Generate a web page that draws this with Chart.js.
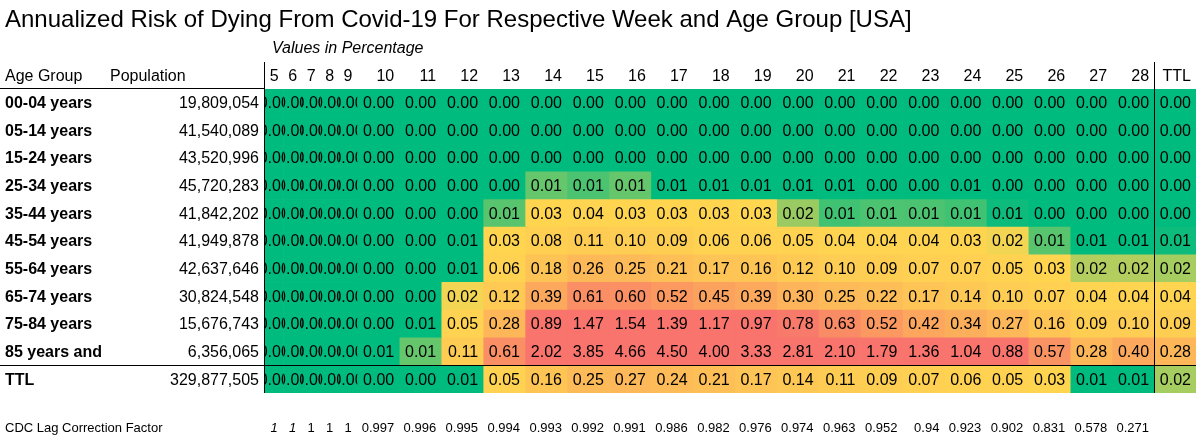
<!DOCTYPE html>
<html>
<head>
<meta charset="utf-8">
<script src="https://cdn.jsdelivr.net/npm/chart.js@4"></script>
<style>
  html, body { margin: 0; padding: 0; background: #fff; }
  #wrap { width: 1200px; height: 440px; }
</style>
</head>
<body>
<div id="wrap"><canvas id="riskChart" width="1200" height="440"></canvas></div>
<script>
// Week columns + total column
const weeks = ['5', '6', '7', '8', '9', '10', '11', '12', '13', '14', '15', '16', '17', '18', '19', '20', '21', '22', '23', '24', '25', '26', '27', '28'];
const columns = [...weeks, 'TTL'];

const ageGroups = ['00-04 years', '05-14 years', '15-24 years', '25-34 years', '35-44 years', '45-54 years',
  '55-64 years', '65-74 years', '75-84 years', '85 years and', 'TTL'];
const population = [19809054, 41540089, 43520996, 45720283, 41842202, 41949878, 42637646, 30824548, 15676743, 6356065, 329877505];

// Annualized risk in %, weeks 5..28 then TTL (extra digit estimated from cell shade)
const age00_04 = [0, 0, 0, 0, 0, 0, 0, 0, 0, 0, 0, 0, 0, 0, 0, 0, 0, 0, 0, 0, 0, 0, 0, 0, 0];
const age05_14 = [0, 0, 0, 0, 0, 0, 0, 0, 0, 0, 0, 0, 0, 0, 0, 0, 0, 0, 0, 0, 0, 0, 0, 0, 0];
const age15_24 = [0, 0, 0, 0, 0, 0, 0, 0, 0, 0, 0, 0, 0, 0, 0, 0, 0, 0, 0, 0, 0, 0, 0, 0, 0];
const age25_34 = [0, 0, 0, 0, 0, 0, 0, 0, 0.004, 0.013, 0.011, 0.013, 0.005, 0.005, 0.005, 0.005, 0.005, 0.004, 0.004, 0.005, 0.004, 0.003, 0.003, 0.003, 0.004];
const age35_44 = [0, 0, 0, 0, 0, 0, 0, 0.004, 0.012, 0.03, 0.04, 0.03, 0.03, 0.03, 0.025, 0.017, 0.010, 0.011, 0.011, 0.010, 0.006, 0.004, 0.003, 0.003, 0.004];
const age45_54 = [0, 0, 0, 0, 0, 0, 0.004, 0.005, 0.03, 0.08, 0.11, 0.10, 0.09, 0.06, 0.06, 0.05, 0.04, 0.04, 0.04, 0.03, 0.024, 0.012, 0.005, 0.005, 0.006];
const age55_64 = [0, 0, 0, 0, 0, 0, 0.004, 0.005, 0.06, 0.18, 0.26, 0.25, 0.21, 0.17, 0.16, 0.12, 0.10, 0.09, 0.07, 0.07, 0.05, 0.03, 0.019, 0.019, 0.018];
const age65_74 = [0, 0, 0, 0, 0, 0.002, 0.004, 0.024, 0.12, 0.39, 0.61, 0.60, 0.52, 0.45, 0.39, 0.30, 0.25, 0.22, 0.17, 0.14, 0.10, 0.07, 0.04, 0.04, 0.04];
const age75_84 = [0, 0, 0, 0, 0, 0.004, 0.005, 0.05, 0.28, 0.89, 1.47, 1.54, 1.39, 1.17, 0.97, 0.78, 0.63, 0.52, 0.42, 0.34, 0.27, 0.16, 0.09, 0.10, 0.09];
const age85plus = [0, 0, 0, 0, 0, 0.005, 0.013, 0.11, 0.61, 2.02, 3.85, 4.66, 4.50, 4.00, 3.33, 2.81, 2.10, 1.79, 1.36, 1.04, 0.88, 0.57, 0.28, 0.40, 0.28];
const ageTotal = [0, 0, 0, 0, 0, 0.002, 0.004, 0.005, 0.05, 0.16, 0.25, 0.27, 0.24, 0.21, 0.17, 0.14, 0.11, 0.09, 0.07, 0.06, 0.05, 0.03, 0.005, 0.005, 0.018];

const lagFactor = ['1', '1', '1', '1', '1', '0.997', '0.996', '0.995', '0.994', '0.993', '0.992', '0.991', '0.986', '0.982',
  '0.976', '0.974', '0.963', '0.952', '0.94', '0.923', '0.902', '0.831', '0.578', '0.271'];

const rows = [age00_04, age05_14, age15_24, age25_34, age35_44, age45_54, age55_64, age65_74, age75_84, age85plus, ageTotal];

// column layout: weeks 5-9 are squeezed
const isNarrow = (i) => i < 5;
const colEdges = [0];
columns.forEach((c, i) => colEdges.push(colEdges[i] + (isNarrow(i) ? 0.44 : 1)));

const FONT = '"Liberation Sans", Arial, sans-serif';
const GREEN = [0, 187, 126], YELLOW = [255, 214, 80], RED = [248, 116, 108];

const mix = (a, b, t) => {
  t = Math.max(0, Math.min(1, t));
  return `rgb(${a.map((v, k) => Math.round(v + (b[k] - v) * t)).join(',')})`;
};
const cellColor = (v) => {
  if (v <= 0.025) return mix(GREEN, YELLOW, (v - 0.005) / 0.02);
  return mix(YELLOW, RED, (v - 0.025) / 0.8);
};

// one floating-bar dataset per column
const datasets = columns.map((c, ci) => ({
  label: c,
  data: rows.map(() => [colEdges[ci], colEdges[ci + 1]]),
  backgroundColor: rows.map(r => cellColor(r[ci])),
  borderWidth: 0,
  grouped: false,
  barPercentage: 1,
  categoryPercentage: 1
}));

const tablePlugin = {
  id: 'tableText',
  afterDatasetsDraw(chart) {
    const ctx = chart.ctx;
    ctx.save();
    ctx.fillStyle = '#000';
    ctx.textBaseline = 'middle';
    ctx.font = `16px ${FONT}`;
    chart.data.datasets.forEach((ds, ci) => {
      chart.getDatasetMeta(ci).data.forEach((bar, ri) => {
        const left = Math.min(bar.x, bar.base), right = Math.max(bar.x, bar.base);
        const top = bar.y - bar.height / 2;
        const txt = rows[ri][ci].toFixed(2);
        ctx.save();
        ctx.beginPath();
        ctx.rect(left, top, right - left, bar.height);
        ctx.clip();
        if (isNarrow(ci)) {
          ctx.textAlign = 'center';
          ctx.fillText(txt, (left + right) / 2, bar.y + 1);
        } else {
          ctx.textAlign = 'right';
          ctx.fillText(txt, right - 5, bar.y + 1);
        }
        ctx.restore();
      });
    });
    ctx.restore();
  },
  afterDraw(chart) {
    const ctx = chart.ctx;
    const x = chart.scales.x, y = chart.scales.y;
    const area = chart.chartArea;
    ctx.save();
    ctx.fillStyle = '#000';
    ctx.textBaseline = 'middle';

    // title
    ctx.textAlign = 'left';
    ctx.font = `24px ${FONT}`;
    ctx.fillText('Annualized Risk of Dying From Covid-19 For Respective Week and Age Group [USA]', 5, 20);
    ctx.font = `italic 16px ${FONT}`;
    ctx.fillText('Values in Percentage', 272, 49);

    // header row
    ctx.font = `16px ${FONT}`;
    ctx.fillText('Age Group', 5, 77);
    ctx.fillText('Population', 110, 77);
    columns.forEach((c, ci) => {
      const l = x.getPixelForValue(colEdges[ci]), r = x.getPixelForValue(colEdges[ci + 1]);
      if (isNarrow(ci)) {
        ctx.textAlign = 'center';
        ctx.fillText(c, (l + r) / 2, 77);
      } else {
        ctx.textAlign = 'right';
        ctx.fillText(c, r - 5, 77);
      }
    });

    // row labels and population
    ageGroups.forEach((g, ri) => {
      const py = y.getPixelForValue(ri) + 1;
      ctx.textAlign = 'left';
      ctx.font = `bold 16px ${FONT}`;
      ctx.fillText(g, 5, py);
      ctx.textAlign = 'right';
      ctx.font = `16px ${FONT}`;
      ctx.fillText(population[ri].toLocaleString('en-US'), 259, py);
    });

    // lag correction footer
    ctx.font = `13px ${FONT}`;
    ctx.textAlign = 'left';
    ctx.fillText('CDC Lag Correction Factor', 5, 428);
    lagFactor.forEach((f, ci) => {
      const l = x.getPixelForValue(colEdges[ci]), r = x.getPixelForValue(colEdges[ci + 1]);
      ctx.font = (ci < 2 ? 'italic ' : '') + `13px ${FONT}`;
      if (isNarrow(ci)) {
        ctx.textAlign = 'center';
        ctx.fillText(f, (l + r) / 2, 428);
      } else {
        ctx.textAlign = 'right';
        ctx.fillText(f, r - 5, 428);
      }
    });

    // rules
    ctx.strokeStyle = '#000';
    ctx.lineWidth = 1;
    const ttlX = Math.round(x.getPixelForValue(colEdges[weeks.length])) + 0.5;
    const sepY = Math.round((y.getPixelForValue(9) + y.getPixelForValue(10)) / 2) + 0.5;
    ctx.beginPath();
    ctx.moveTo(0, Math.round(area.top) - 0.5);
    ctx.lineTo(area.left, Math.round(area.top) - 0.5);
    ctx.moveTo(area.left - 0.5, 62);
    ctx.lineTo(area.left - 0.5, area.bottom);
    ctx.moveTo(ttlX, 62);
    ctx.lineTo(ttlX, area.bottom);
    ctx.moveTo(0, sepY);
    ctx.lineTo(area.right, sepY);
    ctx.stroke();
    ctx.restore();
  }
};

new Chart(document.getElementById('riskChart'), {
  type: 'bar',
  data: {
    labels: ageGroups,
    datasets: datasets
  },
  options: {
    indexAxis: 'y',
    responsive: false,
    animation: false,
    layout: {
      padding: { left: 265, right: 4, top: 89, bottom: 47 }
    },
    scales: {
      x: { type: 'linear', min: 0, max: colEdges[colEdges.length - 1], display: false },
      y: { type: 'category', display: false }
    },
    plugins: {
      legend: { display: false },
      tooltip: { enabled: false }
    }
  },
  plugins: [tablePlugin]
});
</script>
</body>
</html>
